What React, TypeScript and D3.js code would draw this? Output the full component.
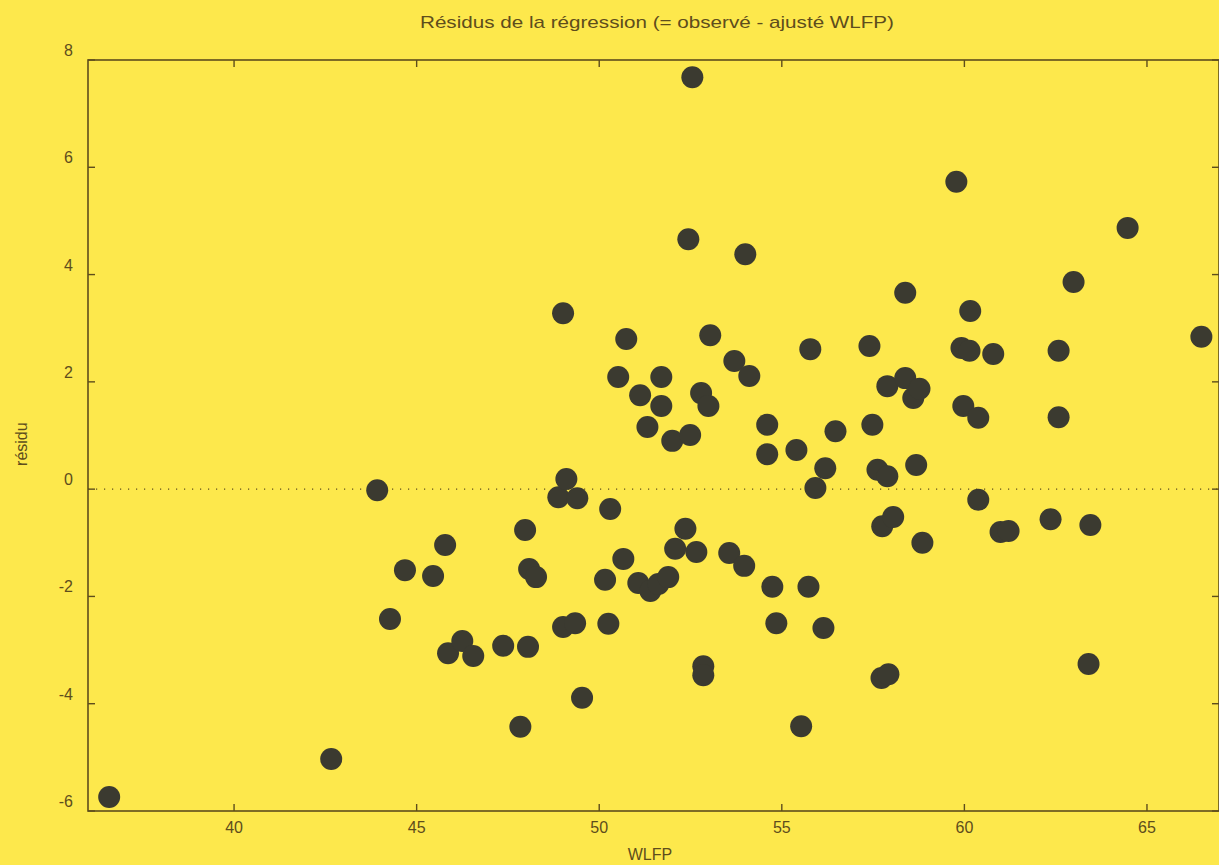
import React from "react";
import * as d3 from "d3";

const wlfp: number[] = [
  36.58, 42.66, 43.92, 44.27, 44.68, 45.45, 45.78, 45.86, 46.25, 46.55,
  47.37, 48.05, 47.84, 47.97, 48.08, 48.27, 48.88, 49.10, 49.40, 49.01,
  49.01, 49.34, 49.53, 50.16, 50.25, 50.30, 50.52, 50.66, 50.74, 51.07,
  51.12, 51.32, 51.40, 51.62, 51.70, 51.70, 51.89, 52.00, 52.08, 52.36,
  52.49, 52.44, 52.55, 52.66, 52.79, 52.85, 52.85, 52.99, 53.04, 53.56,
  53.70, 53.97, 54.00, 54.11, 54.60, 54.60, 54.74, 54.85, 55.40, 55.53,
  55.73, 55.78, 55.92, 56.14, 56.19, 56.47, 57.40, 57.48, 57.62, 57.73,
  57.75, 57.89, 57.92, 57.89, 58.05, 58.38, 58.38, 58.60, 58.68, 58.77,
  58.85, 59.78, 59.92, 59.97, 60.14, 60.16, 60.38, 60.38, 60.79, 60.99,
  61.21, 62.36, 62.58, 62.58, 62.99, 63.40, 63.45, 64.47, 66.49,
];

const residu: number[] = [
  -5.74, -5.03, -0.02, -2.42, -1.51, -1.62, -1.04, -3.06, -2.83, -3.11,
  -2.92, -2.94, -4.43, -0.76, -1.49, -1.64, -0.15, 0.19, -0.17, 3.28,
  -2.57, -2.50, -3.89, -1.69, -2.51, -0.37, 2.09, -1.30, 2.80, -1.75,
  1.75, 1.16, -1.90, -1.77, 2.09, 1.55, -1.64, 0.90, -1.11, -0.74,
  1.01, 4.66, 7.68, -1.17, 1.79, -3.30, -3.47, 1.55, 2.87, -1.19,
  2.39, -1.43, 4.38, 2.11, 1.20, 0.65, -1.82, -2.50, 0.73, -4.42,
  -1.82, 2.61, 0.02, -2.59, 0.39, 1.08, 2.67, 1.20, 0.36, -3.52,
  -0.69, 0.24, -3.45, 1.92, -0.52, 3.66, 2.07, 1.70, 0.45, 1.87,
  -1.00, 5.73, 2.63, 1.55, 2.58, 3.32, 1.33, -0.20, 2.52, -0.80,
  -0.78, -0.56, 2.58, 1.34, 3.86, -3.26, -0.67, 4.87, 2.84,
];

const xTicks: number[] = [40, 45, 50, 55, 60, 65];
const yTicks: number[] = [-6, -4, -2, 0, 2, 4, 6, 8];

const title = "Résidus de la régression (= observé - ajusté WLFP)";
const xLabel = "WLFP";
const yLabel = "résidu";

export default function App() {
  const W = 1219;
  const H = 865;
  const left = 88;
  const right = 1220;
  const top = 60;
  const bottom = 811;
  const x = d3.scaleLinear().domain([36, 67]).range([left, right]);
  const y = d3.scaleLinear().domain([-6, 8]).range([bottom, top]);
  const ink = "#5e4d1c";
  const font = "'Liberation Sans', Arial, sans-serif";
  const tickLen = 7;

  return (
    <svg
      width={W}
      height={H}
      style={{ position: "absolute", left: 0, top: 0, display: "block" }}
      fontFamily={font}
    >
      <rect x={0} y={0} width={W} height={H} fill="#fde84c" />
      <text
        x={420}
        y={28}
        fontSize={17}
        fill={ink}
        textLength={474}
        lengthAdjust="spacingAndGlyphs"
      >
        {title}
      </text>
      {/* zero reference line */}
      <line
        x1={left}
        x2={right}
        y1={y(0)}
        y2={y(0)}
        stroke={ink}
        strokeWidth={1.2}
        strokeDasharray="1.2 6.8"
      />
      {/* frame */}
      <rect
        x={left}
        y={top}
        width={right - left - 1}
        height={bottom - top}
        fill="none"
        stroke={ink}
        strokeWidth={1.6}
      />
      {xTicks.map((t) => (
        <g key={"x" + t}>
          <line x1={x(t)} x2={x(t)} y1={bottom} y2={bottom - tickLen} stroke={ink} strokeWidth={1.4} />
          <line x1={x(t)} x2={x(t)} y1={top} y2={top + tickLen} stroke={ink} strokeWidth={1.4} />
          <text x={x(t)} y={bottom + 22} textAnchor="middle" fontSize={16} fill={ink}>
            {t}
          </text>
        </g>
      ))}
      {yTicks.map((t) => (
        <g key={"y" + t}>
          <line x1={left} x2={left + tickLen} y1={y(t)} y2={y(t)} stroke={ink} strokeWidth={1.4} />
          <line x1={right - 1} x2={right - 1 - tickLen} y1={y(t)} y2={y(t)} stroke={ink} strokeWidth={1.4} />
          <text x={73} y={y(t) - 4} textAnchor="end" fontSize={16} fill={ink}>
            {t}
          </text>
        </g>
      ))}
      <text x={650} y={860} textAnchor="middle" fontSize={16} fill={ink}>
        {xLabel}
      </text>
      <text
        transform={`translate(27, ${y(0) - 45}) rotate(-90)`}
        textAnchor="middle"
        fontSize={16}
        fill={ink}
      >
        {yLabel}
      </text>
      {wlfp.map((v, i) => (
        <circle key={i} cx={x(v)} cy={y(residu[i])} r={11} fill="#3b3a30" />
      ))}
    </svg>
  );
}
